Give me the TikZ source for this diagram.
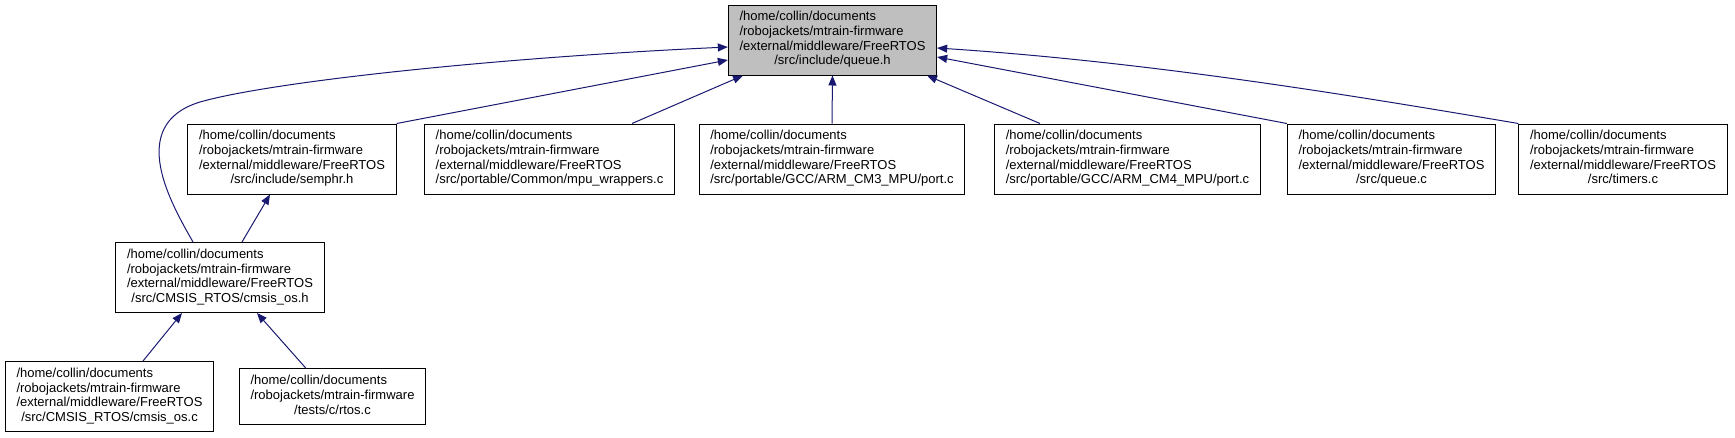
\documentclass[tikz,border=0pt]{standalone}
\usepackage{fontspec}
\setmainfont{Liberation Sans}
\usetikzlibrary{arrows.meta,calc}
\definecolor{edgeblue}{HTML}{191970}
\definecolor{rootgray}{HTML}{BFBFBF}
% path label: first lines flush left, last line centred
\newcommand{\fpath}[2]{\begin{tabular}{@{}l@{}}#1\\\multicolumn{1}{@{}c@{}}{#2}\end{tabular}}

\begin{document}
\begin{tikzpicture}[x=0.75pt,y=-0.75pt,>={Triangle[length=7.5pt,width=6pt]},
  font=\fontsize{9.75pt}{11pt}\selectfont,
  file/.style={draw=black,line width=0.75pt,fill=white,inner xsep=8.4pt,inner ysep=4.25pt},
  dep/.style={->,draw=edgeblue,line width=0.75pt}]
\useasboundingbox (0,0) rectangle (1735,437);

% header being documented
\node[file,fill=rootgray] (root) at (832.5,40)
  {\fpath{/home/collin/documents\\/robojackets/mtrain-firmware\\/external/middleware/FreeRTOS}{/src/include/queue.h}};

% files including it directly
\node[file] (semphr) at (292,159)
  {\fpath{/home/collin/documents\\/robojackets/mtrain-firmware\\/external/middleware/FreeRTOS}{/src/include/semphr.h}};
\node[file] (mpuwrap) at (549.5,159)
  {\fpath{/home/collin/documents\\/robojackets/mtrain-firmware\\/external/middleware/FreeRTOS}{/src/portable/Common/mpu\_wrappers.c}};
\node[file] (cmthree) at (832,159)
  {\fpath{/home/collin/documents\\/robojackets/mtrain-firmware\\/external/middleware/FreeRTOS}{/src/portable/GCC/ARM\_CM3\_MPU/port.c}};
\node[file] (cmfour) at (1127.5,159)
  {\fpath{/home/collin/documents\\/robojackets/mtrain-firmware\\/external/middleware/FreeRTOS}{/src/portable/GCC/ARM\_CM4\_MPU/port.c}};
\node[file] (queuec) at (1391.5,159)
  {\fpath{/home/collin/documents\\/robojackets/mtrain-firmware\\/external/middleware/FreeRTOS}{/src/queue.c}};
\node[file] (timersc) at (1623,159)
  {\fpath{/home/collin/documents\\/robojackets/mtrain-firmware\\/external/middleware/FreeRTOS}{/src/timers.c}};

% indirect includers
\node[file] (cmsish) at (220,277.5)
  {\fpath{/home/collin/documents\\/robojackets/mtrain-firmware\\/external/middleware/FreeRTOS}{/src/CMSIS\_RTOS/cmsis\_os.h}};
\node[file] (cmsisc) at (109.5,396.5)
  {\fpath{/home/collin/documents\\/robojackets/mtrain-firmware\\/external/middleware/FreeRTOS}{/src/CMSIS\_RTOS/cmsis\_os.c}};
\node[file] (rtosc) at (332.5,396.5)
  {\fpath{/home/collin/documents\\/robojackets/mtrain-firmware}{/tests/c/rtos.c}};

% include edges
\draw[dep] ($(cmsish.north)+(-27,0)$) .. controls (172,205) and (125,125) .. (200,102)
  .. controls (270,82) and (490,58) .. ($(root.west)+(0,7)$);
\draw[dep] (semphr.north east) -- ($(root.west)+(0,20)$);
\draw[dep] ($(mpuwrap.north)+(82.5,0)$) -- ($(root.south)+(-89.5,0)$);
\draw[dep] (cmthree.north) -- (root.south);
\draw[dep] ($(cmfour.north)+(-87.5,0)$) -- ($(root.south)+(94.5,0)$);
\draw[dep] (queuec.north west) -- ($(root.east)+(0,17)$);
\draw[dep] (timersc.north west) .. controls (1350,95) and (1150,62) .. ($(root.east)+(0,8)$);
\draw[dep] ($(cmsish.north)+(22,0)$) -- ($(semphr.south)+(-22,0)$);
\draw[dep] ($(cmsisc.north)+(33.5,0)$) -- ($(cmsish.south)+(-38,0)$);
\draw[dep] ($(rtosc.north)+(-26.5,0)$) -- ($(cmsish.south)+(37,0)$);
\end{tikzpicture}
\end{document}
